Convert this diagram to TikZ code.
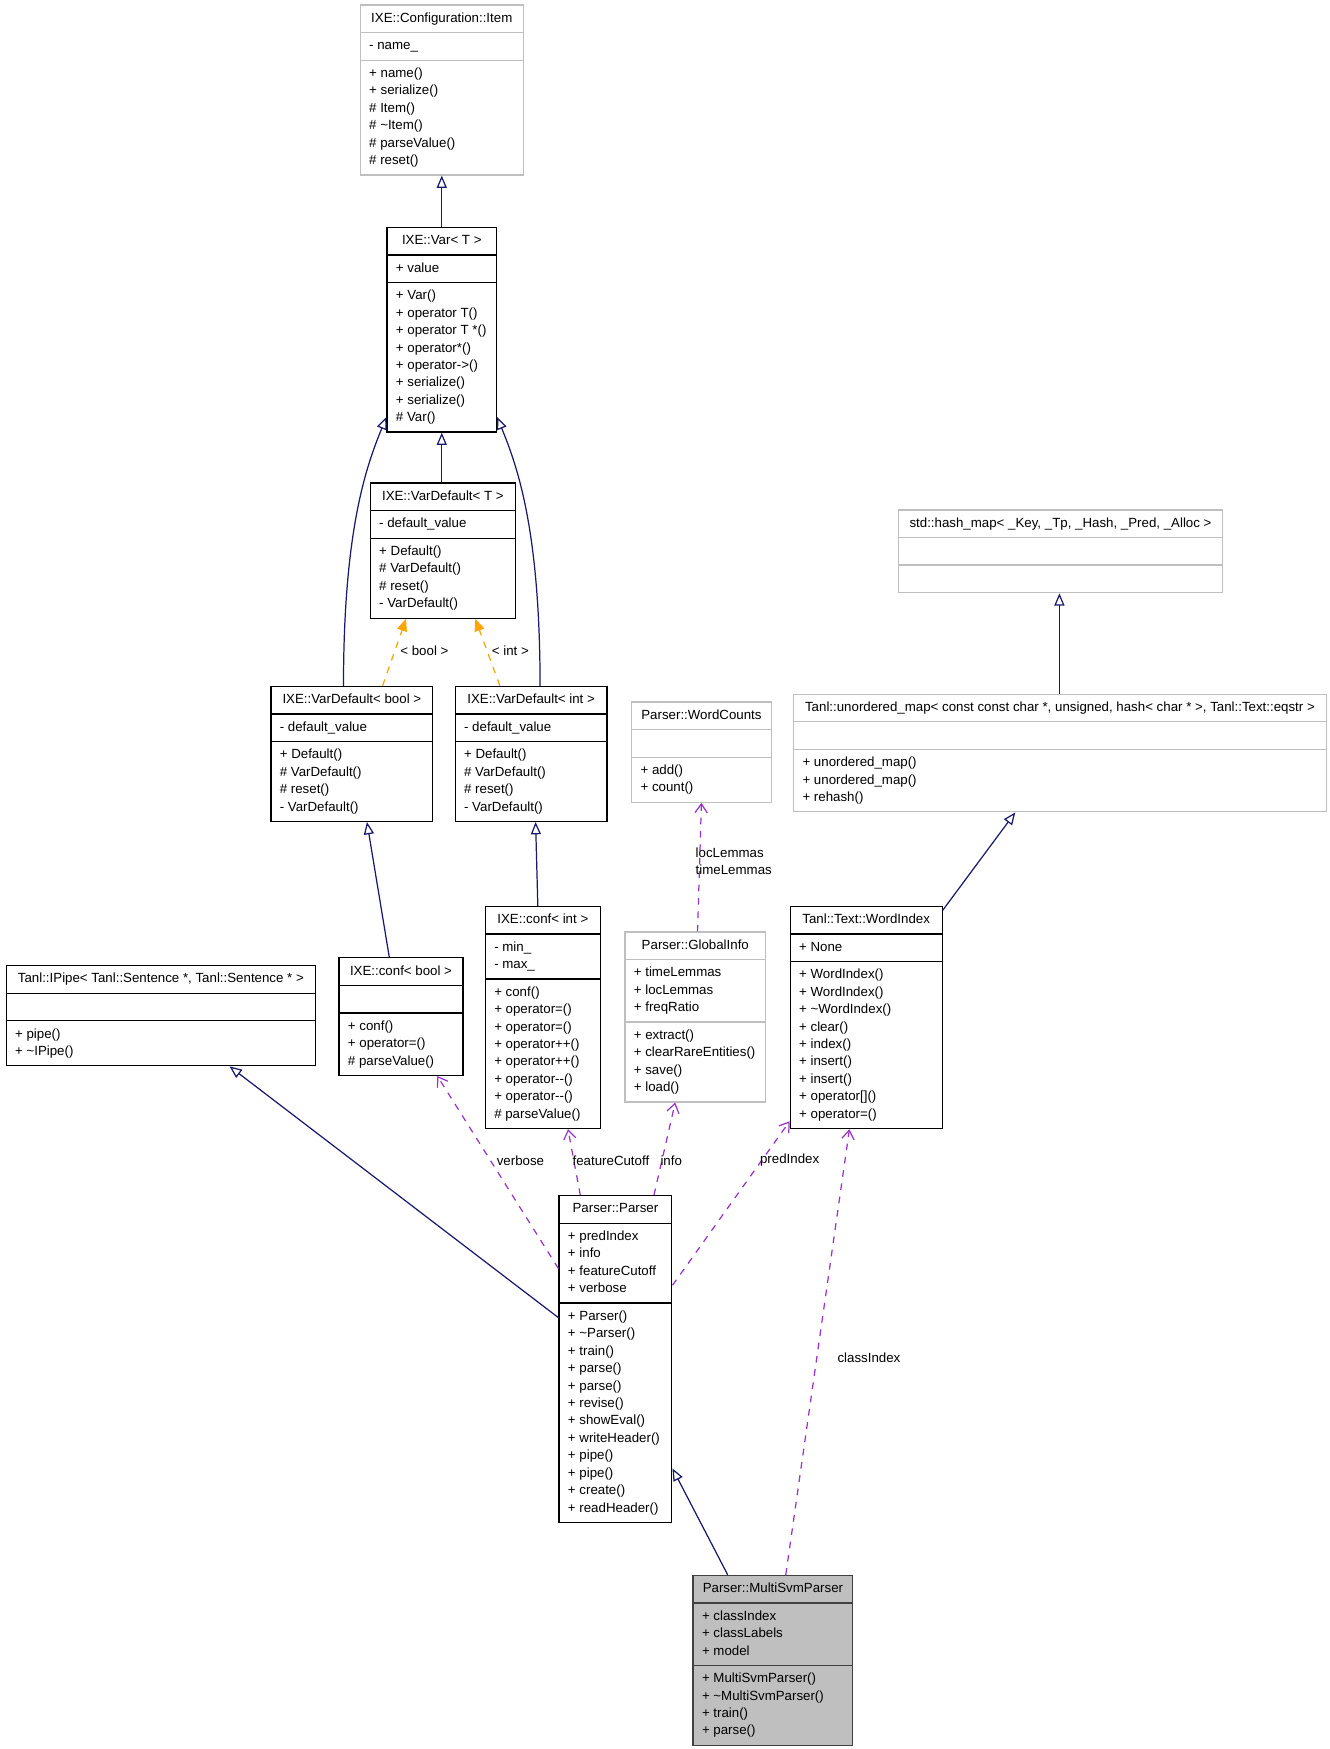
\documentclass[tikz,border=0pt]{standalone}
\usepackage{fontspec}
\setmainfont{Liberation Sans}
\usetikzlibrary{shapes.multipart,arrows.meta}
\definecolor{boxgrey}{HTML}{BFBFBF}
\definecolor{focusdark}{HTML}{404040}
\definecolor{inheritblue}{HTML}{191970}
\definecolor{templateorange}{HTML}{FFA500}
\definecolor{usagepurple}{HTML}{9A32CD}
\newcommand{\umlfont}{\fontsize{11.9pt}{15.6pt}\selectfont}
\tikzset{
    class-box/.style = {draw=black, fill=white, line width=1.1pt, rectangle split, rectangle split parts=3,
        rectangle split part align={center,left,left}, align=left, anchor=north west,
        inner xsep=8pt, inner ysep=4pt, font=\umlfont},
    class-box-grey/.style = {class-box, draw=boxgrey},
    class-box-focus/.style = {class-box, draw=focusdark, fill=boxgrey},
    inherit-edge/.style = {draw=inheritblue, line width=1.1pt, -{Triangle[open, length=11pt, width=9pt]}},
    template-edge/.style = {draw=templateorange, line width=1.1pt, dash pattern=on 6pt off 6pt, -{Triangle[length=11pt, width=9pt]}},
    usage-edge/.style = {draw=usagepurple, line width=1.1pt, dash pattern=on 6pt off 6pt, -{Straight Barb[length=8pt, width=11pt]}},
    edge-label/.style = {font=\umlfont, inner sep=0pt, text=black},
}
% name, style, top left corner, title, attributes, methods
\newcommand{\classbox}[6]{%
    \node[#2] (#1) at (#3) {\strut#4\nodepart{two}\strut#5\strut\nodepart{three}\strut#6\strut};%
}

\begin{document}
\begin{tikzpicture}[x=1pt, y=-1pt]
\path[fill=white, use as bounding box] (0,0) rectangle (1190,1566);

% class boxes
\classbox{item}{class-box-grey, minimum width=146pt}{322,4}{IXE::Configuration::Item}{- name\_}
    {+ name()\\+ serialize()\\\# Item()\\\# \textasciitilde Item()\\\# parseValue()\\\# reset()}
\classbox{var}{class-box, minimum width=98pt}{346,203}{IXE::Var< T >}{+ value}
    {+ Var()\\+ operator T()\\+ operator T *()\\+ operator*()\\+ operator->()\\+ serialize()\\+ serialize()\\\# Var()}
\classbox{vdT}{class-box, minimum width=130pt}{331,432}{IXE::VarDefault< T >}{- default\_value}
    {+ Default()\\\# VarDefault()\\\# reset()\\- VarDefault()}
\classbox{vdbool}{class-box, minimum width=145pt}{242,614}{IXE::VarDefault< bool >}{- default\_value}
    {+ Default()\\\# VarDefault()\\\# reset()\\- VarDefault()}
\classbox{vdint}{class-box, minimum width=136pt}{407,614}{IXE::VarDefault< int >}{- default\_value}
    {+ Default()\\\# VarDefault()\\\# reset()\\- VarDefault()}
\classbox{confbool}{class-box, minimum width=111pt}{303,857}{IXE::conf< bool >}{}
    {+ conf()\\+ operator=()\\\# parseValue()}
\classbox{confint}{class-box, minimum width=103pt}{434,811}{IXE::conf< int >}{- min\_\\- max\_}
    {+ conf()\\+ operator=()\\+ operator=()\\+ operator++()\\+ operator++()\\+ operator-{}-()\\+ operator-{}-()\\\# parseValue()}
\classbox{ipipe}{class-box, minimum width=277pt}{5,864}{Tanl::IPipe< Tanl::Sentence *, Tanl::Sentence * >}{}
    {+ pipe()\\+ \textasciitilde IPipe()}
\classbox{wordcounts}{class-box-grey, minimum width=125pt}{565,628}{Parser::WordCounts}{}
    {+ add()\\+ count()}
\classbox{globalinfo}{class-box-grey, minimum width=126pt}{559,834}{Parser::GlobalInfo}{+ timeLemmas\\+ locLemmas\\+ freqRatio}
    {+ extract()\\+ clearRareEntities()\\+ save()\\+ load()}
\classbox{hashmap}{class-box-grey, minimum width=290pt}{804,456}{std::hash\_map< \_Key, \_Tp, \_Hash, \_Pred, \_Alloc >}{}{}
\classbox{umap}{class-box-grey, minimum width=477pt}{710,621}{Tanl::unordered\_map< const const char *, unsigned, hash< char * >, Tanl::Text::eqstr >}{}
    {+ unordered\_map()\\+ unordered\_map()\\+ rehash()}
\classbox{wordindex}{class-box, minimum width=136pt}{707,811}{Tanl::Text::WordIndex}{+ None}
    {+ WordIndex()\\+ WordIndex()\\+ \textasciitilde WordIndex()\\+ clear()\\+ index()\\+ insert()\\+ insert()\\+ operator[]()\\+ operator=()}
\classbox{parser}{class-box, minimum width=101pt}{500,1070}{Parser::Parser}{+ predIndex\\+ info\\+ featureCutoff\\+ verbose}
    {+ Parser()\\+ \textasciitilde Parser()\\+ train()\\+ parse()\\+ parse()\\+ revise()\\+ showEval()\\+ writeHeader()\\+ pipe()\\+ pipe()\\+ create()\\+ readHeader()}
\classbox{multisvm}{class-box-focus, minimum width=143pt}{620,1410}{Parser::MultiSvmParser}{+ classIndex\\+ classLabels\\+ model}
    {+ MultiSvmParser()\\+ \textasciitilde MultiSvmParser()\\+ train()\\+ parse()}

% inheritance
\draw[inherit-edge] (var.north) -- (item.south);
\draw[inherit-edge] (var.south |- vdT.north) -- (var.south);
\draw[inherit-edge] ([xshift=-7.5pt]vdbool.north) .. controls +(0,-140) and +(-18,44) .. ([yshift=14pt]var.south west);
\draw[inherit-edge] ([xshift=8pt]vdint.north) .. controls +(0,-140) and +(18,44) .. ([yshift=14pt]var.south east);
\draw[inherit-edge] ([xshift=-10.5pt]confbool.north) -- ([xshift=13.5pt]vdbool.south);
\draw[inherit-edge] ([xshift=-4.5pt]confint.north) -- ([xshift=4pt]vdint.south);
\draw[inherit-edge] ([yshift=37pt]parser.west) -- ([xshift=61.5pt]ipipe.south);
\draw[inherit-edge] ([xshift=-40.5pt]multisvm.north) -- ([yshift=-98pt]parser.east);
\draw[inherit-edge] ([xshift=-0.5pt]umap.north) -- ([xshift=-1pt]hashmap.south);
\draw[inherit-edge] ([yshift=-4pt]wordindex.north east) -- ([xshift=-40pt]umap.south);

% template instances
\draw[template-edge] ([xshift=27.5pt]vdbool.north) -- ([xshift=-33pt]vdT.south)
    node[edge-label] at (380,583) {< bool >};
\draw[template-edge] ([xshift=-28pt]vdint.north) -- ([xshift=29pt]vdT.south)
    node[edge-label] at (457,583) {< int >};

% usage
\draw[usage-edge] ([yshift=81pt]parser.west) -- ([xshift=32.5pt]confbool.south)
    node[edge-label] at (466,1039) {verbose};
\draw[usage-edge] ([xshift=-31.5pt]parser.north) -- ([xshift=22.5pt]confint.south)
    node[edge-label] at (547,1039) {featureCutoff};
\draw[usage-edge] ([xshift=34.5pt]parser.north) -- ([xshift=-18pt]globalinfo.south)
    node[edge-label] at (601,1039) {info};
\draw[usage-edge] ([yshift=66pt]parser.east) -- ([yshift=7pt]wordindex.south west)
    node[edge-label] at (707,1039) {predIndex};
\draw[usage-edge] ([xshift=11.5pt]multisvm.north) -- ([xshift=-15pt]wordindex.south)
    node[edge-label] at (778,1216) {classIndex};
\draw[usage-edge] ([xshift=2pt]globalinfo.north) -- (wordcounts.south)
    node[edge-label, align=left] at (657,771) {locLemmas\\timeLemmas};
\end{tikzpicture}
\end{document}
